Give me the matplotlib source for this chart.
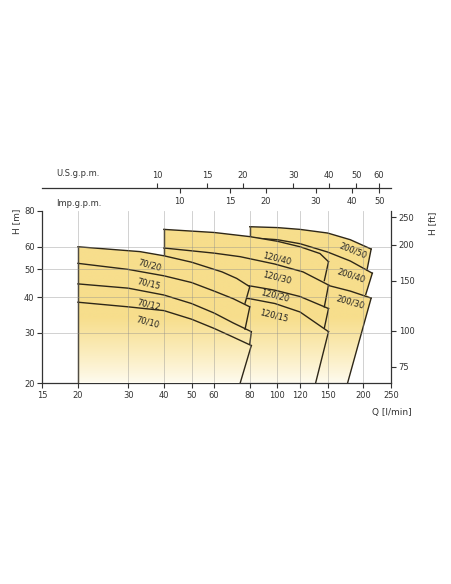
import numpy as np
import matplotlib
matplotlib.use("Agg")
import matplotlib.pyplot as plt
from matplotlib.patches import Polygon
from matplotlib.ticker import NullLocator

plt.rcParams['font.family'] = ['DejaVu Sans']

# pump curves: Q in l/min, H in m
q_70_20 = [20, 33, 40, 50, 64, 72, 80]
h_70_20 = [60, 57.7, 55.8, 53, 49, 46.5, 43.5]
q_70_15 = [20, 30, 40, 50, 60, 70, 80]
h_70_15 = [52.5, 50, 47.5, 45, 42, 39.5, 37]
q_70_12 = [20, 30, 40, 50, 60, 70, 81]
h_70_12 = [44.5, 43, 40.7, 38, 35.2, 32.5, 30.3]
q_70_10 = [20, 30, 40, 50, 60, 70, 81]
h_70_10 = [38.4, 37, 35.9, 33.5, 31.1, 29, 27.1]
feet_70 = [(77, 38.1), (77, 30.9), (80, 27.4), (74, 20)]

q_120_40 = [40, 60, 80, 100, 120, 141, 151]
h_120_40 = [69, 67.3, 65.1, 62.7, 60, 56.8, 53.2]
q_120_30 = [40, 60, 74, 98, 123, 151]
h_120_30 = [59.4, 57, 55.4, 52.2, 49, 44.1]
q_120_20 = [40, 60, 80, 98, 120, 151]
h_120_20 = [47, 45.5, 43.8, 42.3, 40.2, 36.5]
q_120_15 = [40, 60, 80, 98, 120, 151]
h_120_15 = [42, 40.8, 39.5, 38, 35.5, 30.3]
feet_120 = [(146, 45.7), (146, 37.0), (146, 31.2), (136, 20)]

q_200_50 = [80, 100, 120, 150, 180, 213]
h_200_50 = [70.5, 70, 69, 67, 63.5, 58.9]
q_200_40 = [80, 100, 120, 150, 180, 215]
h_200_40 = [64.5, 63.5, 61.5, 57.5, 53.5, 48.5]
q_200_30 = [80, 120, 150, 180, 213]
h_200_30 = [50, 47, 44, 42, 39.7]
feet_200 = [(206, 49.8), (204, 40.9), (176, 20)]

labels_70 = ['70/20', '70/15', '70/12', '70/10']
labels_120 = ['120/40', '120/30', '120/20', '120/15']
labels_200 = ['200/50', '200/40', '200/30']

q_ticks = [15, 20, 30, 40, 50, 60, 80, 100, 120, 150, 200, 250]
h_ticks = [20, 30, 40, 50, 60, 80]
ft_ticks = [75, 100, 150, 200, 250]
us_ticks = [10, 15, 20, 30, 40, 50, 60]
imp_ticks = [10, 15, 20, 30, 40, 50]

W, H = 452, 584
fig = plt.figure(figsize=(W / 100, H / 100), dpi=100)
left, right, top, bottom = 42.3, 391, 211, 383.3
ax = fig.add_axes([left / W, 1 - bottom / H, (right - left) / W, (bottom - top) / H])
ax.set_xscale('log')
ax.set_yscale('log')
ax.set_xlim(15, 250)
ax.set_ylim(20, 80)

lc = '#2e2718'
t = np.linspace(0, 1, 300)[:, None]
s = np.clip((t + 0.02) / 0.4, 0, 1) ** 0.85
c_top = np.array([247, 222, 140]) / 255
c_bot = np.array([255, 254, 248]) / 255
grad = c_bot + (c_top - c_bot) * s[..., None]


def draw_group(curves, feet, names, label_pos, z):
    q0 = curves[0][0][0]
    verts = [(q0, 20)] + list(zip(*curves[0]))
    for i, foot in enumerate(feet):
        verts.append(foot)
        if i + 1 < len(curves):
            verts.append((curves[i + 1][0][-1], curves[i + 1][1][-1]))
    poly = Polygon(verts, closed=True, transform=ax.transData)
    im = ax.imshow(grad, origin='lower', extent=[0, 1, 0, 1], transform=ax.transAxes,
                   aspect='auto', zorder=z, interpolation='bilinear')
    im.set_clip_path(poly)
    ax.plot([q0, q0], [20, curves[0][1][0]], color=lc, lw=1, zorder=z + 0.5)
    for (q, h), foot in zip(curves, feet):
        ax.plot(q, h, color=lc, lw=1, zorder=z + 0.5, solid_joinstyle='round')
        ax.plot([q[-1], foot[0]], [h[-1], foot[1]], color=lc, lw=1, zorder=z + 0.5)
    for name, (lq, lh, rot) in zip(names, label_pos):
        ax.text(lq, lh, name, rotation=rot, ha='center', va='center', fontsize=6,
                color='#222', zorder=z + 0.6, rotation_mode='anchor')


draw_group([(q_200_50, h_200_50), (q_200_40, h_200_40), (q_200_30, h_200_30)],
           feet_200, labels_200,
           [(184, 58.0, -22), (182, 47.4, -18), (179.6, 38.5, -16)], 1)
draw_group([(q_120_40, h_120_40), (q_120_30, h_120_30), (q_120_20, h_120_20),
            (q_120_15, h_120_15)],
           feet_120, labels_120,
           [(99.7, 54.4, -14), (99.7, 46.7, -14), (98, 40.4, -14), (97, 34.6, -14)], 2)
draw_group([(q_70_20, h_70_20), (q_70_15, h_70_15), (q_70_12, h_70_12),
            (q_70_10, h_70_10)],
           feet_70, labels_70,
           [(35.8, 51.8, -15), (35.5, 44.5, -13), (35.5, 37.5, -13), (35.1, 32.8, -15)], 3)

for q in q_ticks[1:-1]:
    ax.axvline(q, color='#8a8a8a', lw=0.6, alpha=0.45, zorder=5)
for h in h_ticks[1:-1]:
    ax.axhline(h, color='#8a8a8a', lw=0.6, alpha=0.45, zorder=5)

ax.set_xticks(q_ticks, [str(v) for v in q_ticks])
ax.set_yticks(h_ticks, [str(v) for v in h_ticks])
ax.xaxis.set_minor_locator(NullLocator())
ax.yaxis.set_minor_locator(NullLocator())
ax.tick_params(direction='out', length=3.6, width=0.8, labelsize=6, pad=2,
               colors='#333')
ax.spines['top'].set_visible(False)
ax.spines['right'].set_visible(False)
for sp in ['left', 'bottom']:
    ax.spines[sp].set_color('#333')
    ax.spines[sp].set_linewidth(0.9)

ax2 = ax.twinx()
ax2.set_yscale('log')
ax2.set_ylim(20 / 0.3048, 80 / 0.3048)
ax2.set_yticks(ft_ticks, [str(v) for v in ft_ticks])
ax2.yaxis.set_minor_locator(NullLocator())
ax2.tick_params(direction='out', length=3.6, width=0.8, labelsize=6, pad=2,
                colors='#333')
for sp in ['top', 'left', 'bottom']:
    ax2.spines[sp].set_visible(False)
ax2.spines['right'].set_color('#333')
ax2.spines['right'].set_linewidth(0.9)

# gallons scales above the chart
yline = 1 - 188.3 / H
rect = [left / W, yline, (right - left) / W, 0.0001]
axu = fig.add_axes(rect)
axu.set_xscale('log')
axu.set_xlim(15 / 3.785, 250 / 3.785)
axu.patch.set_visible(False)
for sp in ['left', 'right', 'bottom']:
    axu.spines[sp].set_visible(False)
axu.spines['top'].set_color('#333')
axu.spines['top'].set_linewidth(0.9)
axu.yaxis.set_visible(False)
axu.xaxis.tick_top()
axu.set_xticks(us_ticks, [str(v) for v in us_ticks])
axu.xaxis.set_minor_locator(NullLocator())
axu.tick_params(axis='x', direction='out', length=3.6, width=0.8, labelsize=6,
                pad=2, colors='#333')

axi = fig.add_axes(rect)
axi.set_xscale('log')
axi.set_xlim(15 / 4.546, 250 / 4.546)
axi.patch.set_visible(False)
for sp in axi.spines.values():
    sp.set_visible(False)
axi.yaxis.set_visible(False)
axi.set_xticks(imp_ticks, [str(v) for v in imp_ticks])
axi.xaxis.set_minor_locator(NullLocator())
axi.tick_params(axis='x', direction='out', length=3.6, width=0.8, labelsize=6,
                pad=2.5, colors='#333')

fig.text(56 / W, 1 - 174 / H, 'U.S.g.p.m.', fontsize=6, va='center', ha='left', color='#333')
fig.text(56 / W, 1 - 203 / H, 'Imp.g.p.m.', fontsize=6, va='center', ha='left', color='#333')
fig.text(17 / W, 1 - 221 / H, 'H [m]', fontsize=6.5, rotation=90, va='center', ha='center', color='#333')
fig.text(433 / W, 1 - 223 / H, 'H [ft]', fontsize=6.5, rotation=90, va='center', ha='center', color='#333')
fig.text(392 / W, 1 - 413 / H, 'Q [l/min]', fontsize=6.5, va='center', ha='center', color='#333')

fig.savefig('out.png', dpi=100, facecolor='white')
